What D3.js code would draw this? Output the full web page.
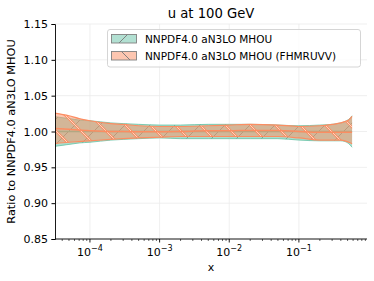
<!DOCTYPE html>
<html><head><meta charset="utf-8">
<script src="https://cdn.jsdelivr.net/npm/d3@7"></script>
<style>body{margin:0;background:#fff}svg{display:block;font-family:"DejaVu Sans",sans-serif}</style>
</head><body><svg id="c" width="374" height="281"></svg>
<script>
const title = "u at 100 GeV";
const xLabel = "x";
const yLabel = "Ratio to NNPDF4.0 aN3LO MHOU";
const seriesNames = ["NNPDF4.0 aN3LO MHOU", "NNPDF4.0 aN3LO MHOU (FHMRUVV)"];
const xs = [3e-5, 5e-5, 7e-5, 1e-4, 2e-4, 3e-4, 5e-4, 1e-3, 2e-3, 5e-3, 1e-2, 2e-2, 5e-2, 0.1, 0.2, 0.3, 0.4, 0.46, 0.52, 0.58];
const refLow  = [0.979,0.982,0.984,0.985,0.988,0.989,0.990,0.991,0.990,0.990,0.990,0.990,0.990,0.988,0.987,0.987,0.987,0.986,0.983,0.978];
const refHigh = [1.021,1.018,1.016,1.015,1.012,1.011,1.010,1.009,1.009,1.010,1.010,1.010,1.009,1.008,1.009,1.010,1.012,1.014,1.017,1.022];
const refMid  = [1,1,1,1,1,1,1,1,1,1,1,1,1,1,1,1,1,1,1,1];
const altLow  = [0.983,0.985,0.986,0.987,0.989,0.990,0.991,0.992,0.993,0.993,0.993,0.993,0.993,0.991,0.988,0.988,0.988,0.987,0.985,0.983];
const altHigh = [1.026,1.022,1.018,1.015,1.011,1.010,1.008,1.007,1.007,1.008,1.009,1.010,1.009,1.007,1.008,1.010,1.012,1.014,1.016,1.021];
const altMid  = [1.0045,1.003,1.002,1.001,1.000,1.000,0.9995,0.9995,1.000,1.001,1.001,1.0015,1.0015,1.000,0.999,0.999,0.999,0.999,0.999,0.999];
const yTicks = [0.85, 0.90, 0.95, 1.00, 1.05, 1.10, 1.15];
const xTicks = [1e-4, 1e-3, 1e-2, 1e-1];
const xDomain = [3.15e-5, 0.95];
const yDomain = [0.85, 1.15];

const svg = d3.select("#c");
const L = 55, R = 367, T = 24, B = 239;
const x = d3.scaleLog().domain(xDomain).range([L, R]);
const y = d3.scaleLinear().domain(yDomain).range([B, T]);
const green = "#66c2a5", orange = "#fc8d62";

const defs = svg.append("defs");
const pg1 = defs.append("pattern").attr("id", "hg").attr("patternUnits", "userSpaceOnUse").attr("width", 25).attr("height", 25);
[[-25,25,0,0],[0,25,25,0],[25,25,50,0]].forEach(l =>
  pg1.append("line").attr("x1", l[0]).attr("y1", l[1]).attr("x2", l[2]).attr("y2", l[3])
    .attr("stroke", "rgba(90,110,95,0.6)").attr("stroke-width", 0.9));
const pg2 = defs.append("pattern").attr("id", "ho").attr("patternUnits", "userSpaceOnUse").attr("width", 25).attr("height", 25);
[[-25,0,0,25],[0,0,25,25],[25,0,50,25]].forEach(l => {
  pg2.append("line").attr("x1", l[0]).attr("y1", l[1]).attr("x2", l[2]).attr("y2", l[3])
    .attr("stroke", "rgba(252,141,98,0.95)").attr("stroke-width", 2.4);
  pg2.append("line").attr("x1", l[0]).attr("y1", l[1]).attr("x2", l[2]).attr("y2", l[3])
    .attr("stroke", "rgba(255,235,225,0.95)").attr("stroke-width", 0.8);
});
const lp1 = defs.append("pattern").attr("id","lg").attr("patternUnits","userSpaceOnUse").attr("width",26).attr("height",26).attr("x",111).attr("y",30);
lp1.append("line").attr("x1",8).attr("y1",13).attr("x2",21).attr("y2",0).attr("stroke","#777").attr("stroke-width",0.9);
const lp2 = defs.append("pattern").attr("id","lo").attr("patternUnits","userSpaceOnUse").attr("width",26).attr("height",26).attr("x",111).attr("y",47);
lp2.append("line").attr("x1",6).attr("y1",0).attr("x2",19).attr("y2",13).attr("stroke","#777").attr("stroke-width",0.9);

// grid
const g = svg.append("g");
yTicks.forEach(t => g.append("line").attr("x1", L).attr("x2", R).attr("y1", y(t)).attr("y2", y(t))
  .attr("stroke", "#ebebeb").attr("stroke-width", 0.8));
xTicks.forEach(t => g.append("line").attr("x1", x(t)).attr("x2", x(t)).attr("y1", T).attr("y2", B)
  .attr("stroke", "#ebebeb").attr("stroke-width", 0.8));

const idx = d3.range(xs.length);
const curve = d3.curveMonotoneX;
const area = (lo, hi) => d3.area().x(i => x(xs[i])).y0(i => y(lo[i])).y1(i => y(hi[i])).curve(curve);
const line = (v) => d3.line().x(i => x(xs[i])).y(i => y(v[i])).curve(curve);

const clip = defs.append("clipPath").attr("id","clipp");
clip.append("rect").attr("x", L).attr("y", T).attr("width", R - L).attr("height", B - T);
const pg = svg.append("g").attr("clip-path", "url(#clipp)");

pg.append("path").attr("d", area(refLow, refHigh)(idx)).attr("fill", green).attr("fill-opacity", 0.55);
pg.append("path").attr("d", area(refLow, refHigh)(idx)).attr("fill", "url(#hg)");
[refLow, refHigh].forEach(v => pg.append("path").attr("d", line(v)(idx)).attr("fill", "none")
  .attr("stroke", green).attr("stroke-width", 1).attr("stroke-opacity", 0.8));
pg.append("path").attr("d", line(refMid)(idx)).attr("fill", "none").attr("stroke", green).attr("stroke-width", 1.5);
pg.append("path").attr("d", area(altLow, altHigh)(idx)).attr("fill", orange).attr("fill-opacity", 0.5);
pg.append("path").attr("d", area(altLow, altHigh)(idx)).attr("fill", "url(#ho)");
[altLow, altHigh].forEach(v => pg.append("path").attr("d", line(v)(idx)).attr("fill", "none")
  .attr("stroke", orange).attr("stroke-width", 1.2));
pg.append("path").attr("d", line(altMid)(idx)).attr("fill", "none").attr("stroke", orange).attr("stroke-width", 1.5);

// axes
const yAxis = d3.axisLeft(y).tickValues(yTicks).tickFormat(d3.format(".2f")).tickSize(3.5).tickPadding(3.5);
const ya = svg.append("g").attr("transform", `translate(${L},0)`).call(yAxis);
ya.selectAll("text").attr("font-size", 11).attr("fill", "#000").attr("font-family", "DejaVu Sans");
ya.select(".domain").attr("stroke", "#000").attr("stroke-width", 0.9);

const minor = [];
for (let e = -5; e <= 0; e++) for (let m = 2; m <= 9; m++) {
  const v = m * Math.pow(10, e);
  if (v >= xDomain[0] && v <= xDomain[1]) minor.push(v);
}
const xa = svg.append("g").attr("transform", `translate(0,${B})`);
xa.append("line").attr("x1", L).attr("x2", R).attr("stroke", "#000").attr("stroke-width", 0.9);
minor.forEach(v => xa.append("line").attr("x1", x(v)).attr("x2", x(v)).attr("y1", 0).attr("y2", 2).attr("stroke", "#000").attr("stroke-width", 0.6));
xTicks.forEach(v => {
  xa.append("line").attr("x1", x(v)).attr("x2", x(v)).attr("y1", 0).attr("y2", 3.5).attr("stroke", "#000").attr("stroke-width", 0.9);
  const e = Math.round(Math.log10(v));
  const t = xa.append("text").attr("x", x(v)).attr("y", 16.5).attr("text-anchor", "middle").attr("font-size", 11);
  t.append("tspan").text("10");
  t.append("tspan").attr("dy", -4.5).attr("font-size", 8).text("\u2212" + Math.abs(e));
});

// labels
svg.append("text").attr("x", 211).attr("y", 18).attr("text-anchor", "middle").attr("font-size", 13.2).text(title);
svg.append("text").attr("x", 211).attr("y", 271).attr("text-anchor", "middle").attr("font-size", 11).text(xLabel);
svg.append("text").attr("transform", `translate(15,${(T + B) / 2}) rotate(-90)`).attr("text-anchor", "middle")
  .attr("font-size", 11.3).text(yLabel);

// legend
const lg = svg.append("g");
lg.append("rect").attr("x", 107.5).attr("y", 29.5).attr("width", 253).attr("height", 37.5).attr("rx", 2.5)
  .attr("fill", "rgba(255,255,255,0.8)").attr("stroke", "#d0d0d0").attr("stroke-width", 0.9);
const legendItems = [
  {name: seriesNames[0], fill: "#b2e0d2", pat: "url(#lg)", yy: 34.5},
  {name: seriesNames[1], fill: "#fdc6b0", pat: "url(#lo)", yy: 51.5}
];
legendItems.forEach(it => {
  lg.append("rect").attr("x", 111.5).attr("y", it.yy).attr("width", 25).attr("height", 8.5).attr("fill", it.fill);
  lg.append("rect").attr("x", 111.5).attr("y", it.yy).attr("width", 25).attr("height", 8.5).attr("fill", it.pat)
    .attr("stroke", "#808080").attr("stroke-width", 0.9);
  lg.append("text").attr("x", 145).attr("y", it.yy + 8.5).attr("font-size", 10.5).text(it.name);
});
</script></body></html>
